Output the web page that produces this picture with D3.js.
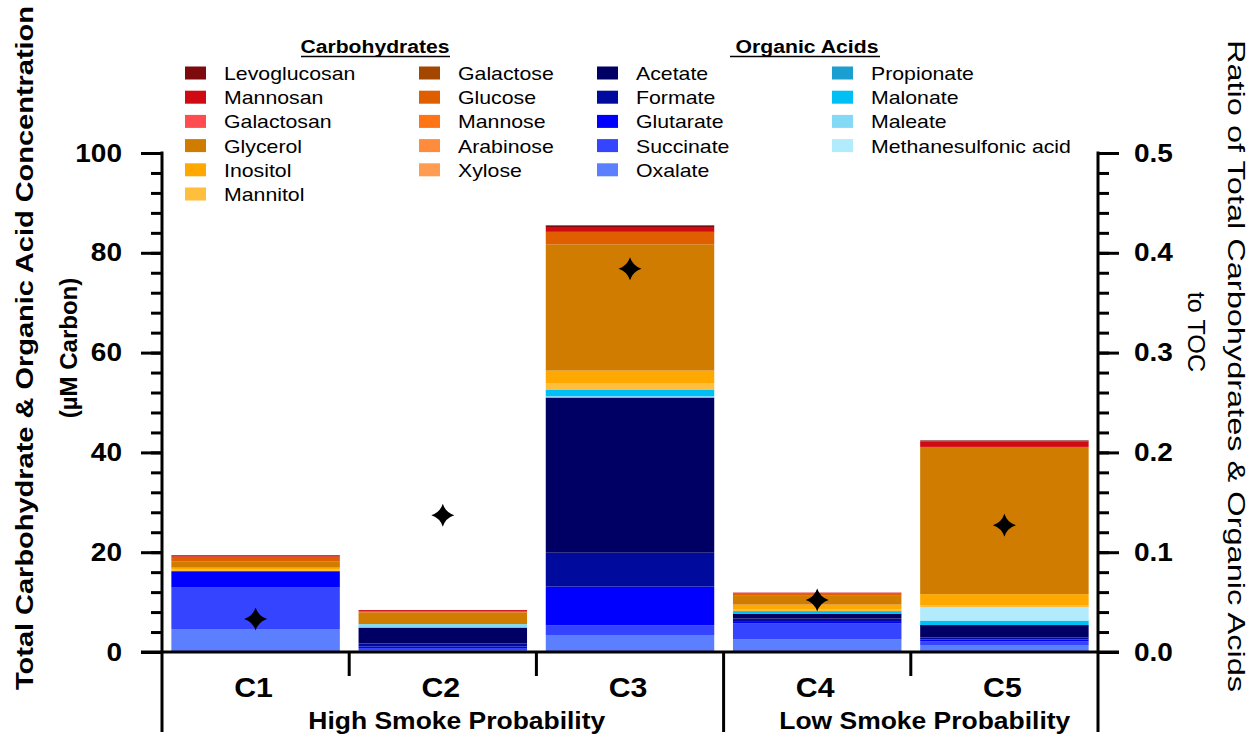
<!DOCTYPE html>
<html>
<head>
<meta charset="utf-8">
<script src="https://cdn.jsdelivr.net/npm/d3@7"></script>
<style>
    body { margin: 0; background: #fff; }
    svg { display: block; font-family: "Liberation Sans", Arial, sans-serif; }
</style>
</head>
<body>
<div id="chart"></div>
<script>
// 数据
const categories = ['C1', 'C2', 'C3', 'C4', 'C5'];
const groups = [
    { label: 'High Smoke Probability', from: 'C1', to: 'C3' },
    { label: 'Low Smoke Probability', from: 'C4', to: 'C5' }
];

// species, bottom of the stack first (µM carbon, C1..C5)
const oxalate      = [4.6, 0.4, 3.4, 2.5, 1.4];
const succinate    = [8.3, 0.4, 1.9, 3.2, 0.7];
const glutarate    = [3.3, 0.3, 7.8, 0.5, 0.4];
const formate      = [0.0, 0.6, 6.8, 0.5, 0.4];
const acetate      = [0.0, 3.2, 31.1, 1.0, 2.5];
const propionate   = [0, 0, 0, 0, 0];
const maleate      = [0.0, 0.7, 0.3, 0.0, 0.0];
const malonate     = [0.0, 0.0, 1.3, 0.5, 0.9];
const msa          = [0.0, 0.0, 0.0, 0.0, 2.7];
const xylose       = [0, 0, 0, 0, 0];
const arabinose    = [0, 0, 0, 0, 0];
const mannose      = [0, 0, 0, 0, 0];
const mannitol     = [0.3, 0.0, 1.3, 0.4, 0.3];
const inositol     = [0.4, 0.0, 2.5, 0.9, 2.3];
const glycerol     = [1.2, 2.3, 25.3, 1.9, 29.5];
const glucose      = [1.0, 0.3, 2.5, 0.4, 0.0];
const galactose    = [0, 0, 0, 0, 0];
const galactosan   = [0, 0, 0, 0, 0];
const mannosan     = [0.3, 0.2, 0.8, 0.1, 1.1];
const levoglucosan = [0.0, 0.0, 0.5, 0.0, 0.2];

// ratio to TOC (right axis)
const ratioTOC = [0.033, 0.137, 0.384, 0.052, 0.127];

const yTicks = [0, 20, 40, 60, 80, 100];
const y2Ticks = [0, 0.1, 0.2, 0.3, 0.4, 0.5];

const species = [
    { key: 'Oxalate', values: oxalate, color: '#5b7fff' },
    { key: 'Succinate', values: succinate, color: '#3545ff' },
    { key: 'Glutarate', values: glutarate, color: '#0000ff' },
    { key: 'Formate', values: formate, color: '#000a9c' },
    { key: 'Acetate', values: acetate, color: '#000064' },
    { key: 'Propionate', values: propionate, color: '#1a9fd0' },
    { key: 'Maleate', values: maleate, color: '#84daf6' },
    { key: 'Malonate', values: malonate, color: '#00bff5' },
    { key: 'Methanesulfonic acid', values: msa, color: '#b2ebfb' },
    { key: 'Xylose', values: xylose, color: '#ff9c52' },
    { key: 'Arabinose', values: arabinose, color: '#ff8c3c' },
    { key: 'Mannose', values: mannose, color: '#ff7414' },
    { key: 'Mannitol', values: mannitol, color: '#ffbe3c' },
    { key: 'Inositol', values: inositol, color: '#ffa800' },
    { key: 'Glycerol', values: glycerol, color: '#d07c00' },
    { key: 'Glucose', values: glucose, color: '#de5e00' },
    { key: 'Galactose', values: galactose, color: '#a34600' },
    { key: 'Galactosan', values: galactosan, color: '#ff4c50' },
    { key: 'Mannosan', values: mannosan, color: '#d00a12' },
    { key: 'Levoglucosan', values: levoglucosan, color: '#7d0a0c' }
];
const colorOf = {};
species.forEach(s => colorOf[s.key] = s.color);

// legend columns
const legendCols = [
    { x: 185, items: ['Levoglucosan', 'Mannosan', 'Galactosan', 'Glycerol', 'Inositol', 'Mannitol'] },
    { x: 419, items: ['Galactose', 'Glucose', 'Mannose', 'Arabinose', 'Xylose'] },
    { x: 597, items: ['Acetate', 'Formate', 'Glutarate', 'Succinate', 'Oxalate'] },
    { x: 832, items: ['Propionate', 'Malonate', 'Maleate', 'Methanesulfonic acid'] }
];

const width = 1252, height = 736;
const plotLeft = 162, plotRight = 1098, plotTop = 153, plotBottom = 652;

const svg = d3.select('#chart').append('svg')
    .attr('width', width)
    .attr('height', height);

// the reference text is a bit wider than Arial, so widen glyphs
function stretch(sel, k) {
    sel.each(function() {
        const w = this.getComputedTextLength();
        d3.select(this).attr('textLength', w * k).attr('lengthAdjust', 'spacingAndGlyphs');
    });
}

const x = d3.scaleBand()
    .domain(categories)
    .range([plotLeft, plotRight])
    .paddingInner(0.1)
    .paddingOuter(0.05);

const y = d3.scaleLinear().domain([0, 100]).range([plotBottom, plotTop]);
const y2 = d3.scaleLinear().domain([0, 0.5]).range([plotBottom, plotTop]);

// 堆叠
const table = categories.map((c, i) => {
    const row = { cat: c };
    species.forEach(s => row[s.key] = s.values[i]);
    return row;
});
const stacked = d3.stack().keys(species.map(s => s.key))(table);

svg.append('g')
    .selectAll('g')
    .data(stacked)
    .enter().append('g')
    .attr('fill', d => colorOf[d.key])
    .selectAll('rect')
    .data(d => d)
    .enter().append('rect')
    .attr('x', d => x(d.data.cat))
    .attr('width', x.bandwidth())
    .attr('y', d => y(d[1]))
    .attr('height', d => Math.max(0, y(d[0]) - y(d[1])));

// 四角星
function starPath(r) {
    const c = r * 0.24;
    return `M0,${-r}Q${c},${-c} ${r},0Q${c},${c} 0,${r}Q${-c},${c} ${-r},0Q${-c},${-c} 0,${-r}Z`;
}
svg.append('g')
    .selectAll('path')
    .data(ratioTOC)
    .enter().append('path')
    .attr('d', starPath(11.5))
    .attr('fill', '#000')
    .attr('transform', (d, i) => `translate(${x(categories[i]) + x.bandwidth() / 2},${y2(d)})`);

// axes
const axisStroke = 3;
function styleAxis(g) {
    g.select('.domain').remove();
    g.selectAll('.tick line').attr('stroke', '#000').attr('stroke-width', axisStroke);
    g.selectAll('.tick text')
        .attr('font-size', 25)
        .attr('font-weight', 'bold')
        .attr('fill', '#000')
        .call(stretch, 1.12);
}

// left
svg.append('g')
    .attr('transform', `translate(${plotLeft},0)`)
    .call(d3.axisLeft(y).tickValues(d3.range(0, 101, 4)).tickSize(11).tickFormat(''))
    .call(styleAxis);
svg.append('g')
    .attr('transform', `translate(${plotLeft},0)`)
    .call(d3.axisLeft(y).tickValues(yTicks).tickSize(21).tickPadding(19))
    .call(styleAxis);

// right
svg.append('g')
    .attr('transform', `translate(${plotRight},0)`)
    .call(d3.axisRight(y2).tickValues(d3.range(0, 26).map(v => v * 0.02)).tickSize(11).tickFormat(''))
    .call(styleAxis);
svg.append('g')
    .attr('transform', `translate(${plotRight},0)`)
    .call(d3.axisRight(y2).tickValues(y2Ticks).tickSize(21).tickPadding(15).tickFormat(d3.format('.1f')))
    .call(styleAxis);

// axis lines
const lines = svg.append('g').attr('stroke', '#000').attr('stroke-width', axisStroke);
lines.append('line').attr('x1', plotLeft).attr('x2', plotLeft).attr('y1', plotTop - 1.5).attr('y2', 732);
lines.append('line').attr('x1', plotRight).attr('x2', plotRight).attr('y1', plotTop - 1.5).attr('y2', 732);
lines.append('line').attr('x1', plotLeft - 21).attr('x2', plotRight + 21).attr('y1', plotBottom).attr('y2', plotBottom);

// category separators
const step = x.step();
categories.slice(1).forEach(c => {
    const sx = x(c) - x.paddingInner() * step / 2;
    const isGroupEdge = groups.some(g => g.from === c);
    lines.append('line')
        .attr('x1', sx).attr('x2', sx)
        .attr('y1', plotBottom)
        .attr('y2', isGroupEdge ? 732 : 676);
});

// category labels
svg.append('g')
    .selectAll('text')
    .data(categories)
    .enter().append('text')
    .attr('x', d => x(d) + x.bandwidth() / 2 - 2)
    .attr('y', 697)
    .attr('text-anchor', 'middle')
    .attr('font-size', 27)
    .attr('font-weight', 'bold')
    .text(d => d)
    .call(stretch, 1.12);

// group labels
svg.append('g')
    .selectAll('text')
    .data(groups)
    .enter().append('text')
    .attr('x', d => {
        const a = x(d.from) - x.paddingInner() * step / 2;
        const b = x(d.to) + x.bandwidth() + x.paddingInner() * step / 2;
        return (Math.max(a, plotLeft) + Math.min(b, plotRight)) / 2 + 14;
    })
    .attr('y', 729)
    .attr('text-anchor', 'middle')
    .attr('font-size', 23)
    .attr('font-weight', 'bold')
    .text(d => d.label)
    .call(stretch, 1.15);

// left title
const lt = svg.append('g')
    .attr('transform', 'translate(0,348) rotate(-90)')
    .attr('text-anchor', 'middle')
    .attr('font-weight', 'bold');
lt.append('text').attr('x', 0).attr('y', 33).attr('font-size', 24)
    .attr('textLength', 684).attr('lengthAdjust', 'spacingAndGlyphs')
    .text('Total Carbohydrate & Organic Acid Concentration');
lt.append('text').attr('x', 0).attr('y', 77).attr('font-size', 24)
    .text('(µM Carbon)');

// right title
const rt = svg.append('g')
    .attr('transform', 'translate(1252,366) rotate(90)')
    .attr('text-anchor', 'middle');
rt.append('text').attr('x', 0).attr('y', 24).attr('font-size', 24)
    .attr('textLength', 652).attr('lengthAdjust', 'spacingAndGlyphs')
    .text('Ratio of Total Carbohydrates & Organic Acids');
rt.append('text').attr('x', -34).attr('y', 64).attr('font-size', 24)
    .text('to TOC')
    .call(stretch, 1.05);

// legend
const legend = svg.append('g');
const rowY = 73, rowStep = 24.2;
legendCols.forEach(col => {
    col.items.forEach((name, i) => {
        legend.append('rect')
            .attr('x', col.x).attr('y', rowY + i * rowStep - 6.5)
            .attr('width', 21).attr('height', 13)
            .attr('fill', colorOf[name]);
        legend.append('text')
            .attr('x', col.x + 39).attr('y', rowY + i * rowStep + 7)
            .attr('font-size', 19)
            .text(name)
            .call(stretch, 1.12);
    });
});

const legendTitles = [
    { text: 'Carbohydrates', cx: 375, w: 149, x1: 301, x2: 450 },
    { text: 'Organic Acids', cx: 807, w: 143, x1: 730, x2: 880 }
];
legendTitles.forEach(t => {
    legend.append('text')
        .attr('x', t.cx).attr('y', 53)
        .attr('text-anchor', 'middle')
        .attr('font-size', 18)
        .attr('font-weight', 'bold')
        .attr('textLength', t.w).attr('lengthAdjust', 'spacingAndGlyphs')
        .text(t.text);
    legend.append('line')
        .attr('x1', t.x1).attr('x2', t.x2)
        .attr('y1', 56.5).attr('y2', 56.5)
        .attr('stroke', '#000').attr('stroke-width', 1.5);
});
</script>
</body>
</html>
